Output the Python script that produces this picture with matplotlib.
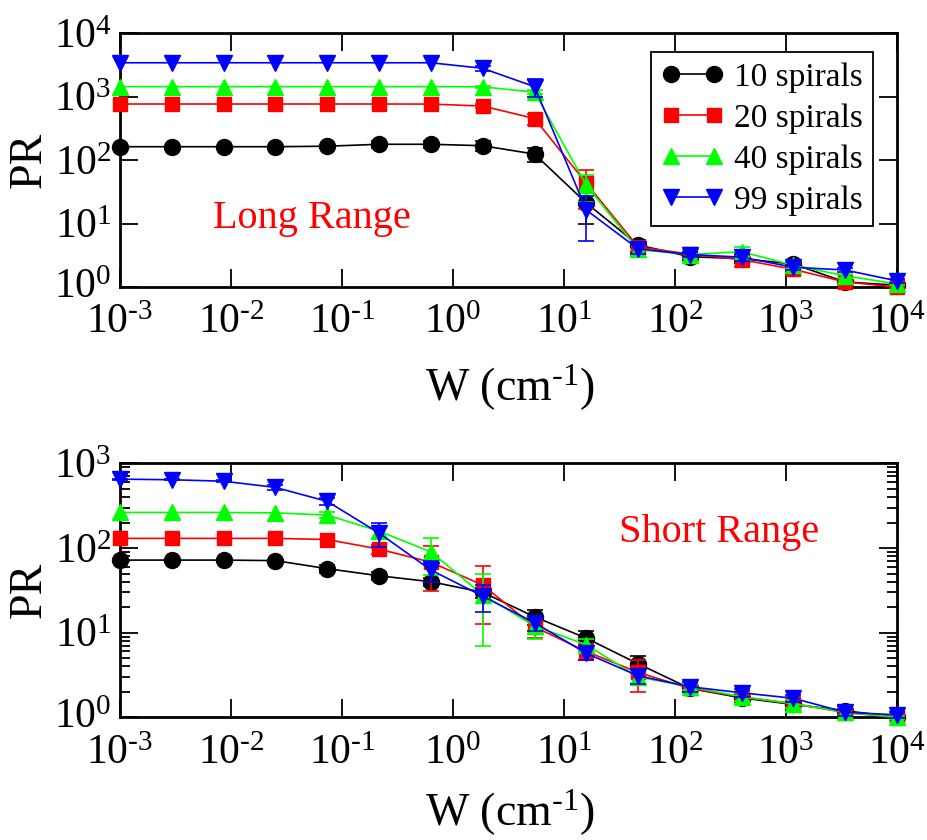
import numpy as np
import matplotlib
matplotlib.use('Agg')
import matplotlib.pyplot as plt
from matplotlib.transforms import ScaledTranslation

plt.rcParams['font.family'] = ['Liberation Serif', 'DejaVu Serif']
plt.rcParams['mathtext.fontset'] = 'custom'
plt.rcParams['mathtext.rm'] = 'Liberation Serif'
plt.rcParams['mathtext.it'] = 'Liberation Serif:italic'
plt.rcParams['mathtext.default'] = 'regular'

# disorder strength W (cm^-1), same grid for both panels
w = [0.001, 0.00293, 0.00858, 0.0251, 0.0737, 0.216, 0.632, 1.85,
     5.43, 15.9, 46.4, 136, 398, 1166, 3415, 10000]

labels = ['10 spirals', '20 spirals', '40 spirals', '99 spirals']
colors = ['black', '#ff0000', '#00ff00', '#0000ff']
markers = ['o', 's', '^', 'v']
msizes = [11.5, 9.5, 11.5, 11.5]

xtick_vals = [1e-3, 1e-2, 1e-1, 1e0, 1e1, 1e2, 1e3, 1e4]
xtick_labels = [r'$10^{\text{-}3}$', r'$10^{\text{-}2}$', r'$10^{\text{-}1}$',
                r'$10^{0}$', r'$10^{1}$', r'$10^{2}$', r'$10^{3}$', r'$10^{4}$']

# Long range coupling
long_pr = [
    [162, 162, 162, 162, 165, 177, 177, 168, 124, 21, 4.6, 3.0, 2.8, 2.3, 1.2, 1.07],
    [762, 762, 762, 762, 762, 762, 760, 708, 450, 43, 4.3, 3.3, 2.7, 1.9, 1.2, 1.0],
    [1430, 1430, 1430, 1430, 1430, 1430, 1430, 1420, 1170, 40, 3.9, 3.25, 3.6, 2.2, 1.5, 1.12],
    [3400, 3400, 3400, 3400, 3400, 3400, 3400, 2780, 1430, 16.3, 4.0, 3.25, 2.95, 2.05, 1.85, 1.25],
]
long_err = [
    [0, 0, 0, 0, 0, 20, 25, 30, 32, 11, 1.0, 0.3, 0.4, 0.2, 0.1, 0.05],
    [0, 0, 0, 0, 0, 0, 0, 50, 90, 26, 1.0, 0.3, 0.6, 0.3, 0.1, 0.05],
    [0, 0, 0, 0, 0, 0, 0, 40, 80, 18, 0.8, 0.4, 0.6, 0.3, 0.1, 0.05],
    [0, 0, 0, 0, 0, 0, 0, 250, 450, 11, 0.7, 0.3, 0.4, 0.2, 0.15, 0.1],
]

# Short range coupling
short_pr = [
    [72, 72, 72, 71, 57, 47, 40, 30, 15.4, 8.6, 4.3, 2.2, 1.7, 1.42, 1.2, 1.0],
    [130, 130, 130, 130, 126, 97, 68, 36.5, 11.7, 6.0, 3.4, 2.2, 1.75, 1.45, 1.14, 1.0],
    [263, 263, 263, 260, 245, 158, 90, 28, 12, 7.2, 3.0, 2.3, 1.75, 1.45, 1.15, 1.0],
    [651, 640, 615, 520, 355, 150, 55, 27, 13.1, 5.7, 3.1, 2.3, 1.95, 1.68, 1.15, 1.07],
]
short_err = [
    [0, 0, 0, 0, 6, 5, 4, 4, 3, 2, 1.0, 0.2, 0.2, 0.1, 0.15, 0.05],
    [0, 0, 0, 0, 0, 12, 37, 24, 3, 1.3, 1.4, 0.2, 0.2, 0.3, 0.1, 0.05],
    [0, 0, 0, 0, 20, 25, 42, 21, 3.5, 1.2, 0.5, 0.2, 0.2, 0.15, 0.1, 0.05],
    [10, 10, 20, 40, 30, 48, 15, 9.5, 2.5, 0.9, 0.6, 0.3, 0.2, 0.15, 0.1, 0.1],
]


def draw_panel(ax, pr, err, ndec):
    x = np.array(w)
    for i in range(4):
        y = np.array(pr[i])
        e = np.array(err[i])
        ax.plot(x, y, color=colors[i], marker=markers[i], ms=msizes[i],
                lw=1.2, label=labels[i], zorder=3 + i, clip_on=False)
        # only points with a visible error get a bar
        m = e > 0
        ax.errorbar(x[m], y[m], yerr=e[m], fmt='none', ecolor=colors[i],
                    elinewidth=1.2, capsize=6, capthick=1.2, zorder=3 + i,
                    clip_on=False)
    ax.set_xscale('log')
    ax.set_yscale('log')
    ax.set_xlim(1e-3, 1e4)
    ax.set_ylim(1, 10.0 ** ndec)
    ax.set_xticks(xtick_vals)
    ax.set_xticklabels(xtick_labels)
    ax.set_yticks([10.0 ** k for k in range(ndec + 1)])
    ax.set_yticklabels(['$10^{%d}$' % k for k in range(ndec + 1)])
    ax.tick_params(which='both', direction='in', top=True, right=True,
                   labelsize=30, width=1.3)
    ax.tick_params(which='major', length=13, pad=6)
    ax.tick_params(which='minor', length=7)
    ax.tick_params(axis='x', which='major', pad=12)
    # lowest y label sits a little high so it clears the first x label
    lab = ax.get_yticklabels()[0]
    lab.set_transform(lab.get_transform() +
                      ScaledTranslation(0, 3 / 72, ax.figure.dpi_scale_trans))
    for s in ax.spines.values():
        s.set_linewidth(2)


fig = plt.figure(figsize=(9.28, 8.4), dpi=100)
ax1 = fig.add_axes([0.1293, 0.6583, 0.8373, 0.3024])
ax2 = fig.add_axes([0.1293, 0.146, 0.8373, 0.3024])

draw_panel(ax1, long_pr, long_err, 4)
draw_panel(ax2, short_pr, short_err, 3)

leg = ax1.legend(loc='upper right', bbox_to_anchor=(0.969, 0.925),
                 borderaxespad=0, fontsize=24, numpoints=2, handlelength=1.9,
                 handletextpad=0.3, labelspacing=0.32, borderpad=0.3,
                 fancybox=False, framealpha=1)
leg.get_frame().set_edgecolor('black')
leg.get_frame().set_linewidth(1.3)

ax1.text(0.2467, 0.231, 'Long Range', color='#ff0000', fontsize=29,
         ha='center', va='baseline', transform=ax1.transAxes)
ax2.text(0.771, 0.689, 'Short Range', color='#ff0000', fontsize=29,
         ha='center', va='baseline', transform=ax2.transAxes)

fig.text(29 / 928, 1 - 160 / 840, 'PR', rotation=90, fontsize=33,
         ha='center', va='center')
fig.text(29 / 928, 1 - 590 / 840, 'PR', rotation=90, fontsize=33,
         ha='center', va='center')
fig.text(510 / 928, 1 - 388 / 840, r'W (cm$^{\text{-}1}$)', fontsize=33,
         ha='center', va='center')
fig.text(510 / 928, 1 - 813 / 840, r'W (cm$^{\text{-}1}$)', fontsize=33,
         ha='center', va='center')

plt.savefig('out.png', dpi=100)
plt.close()
